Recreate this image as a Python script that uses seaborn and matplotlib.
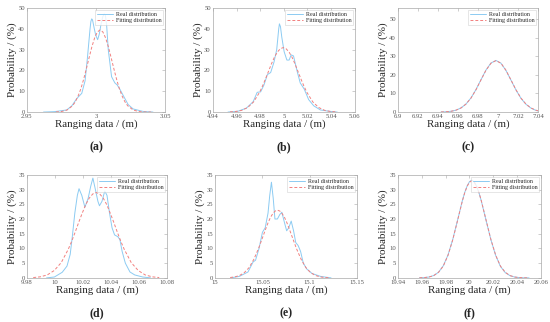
import matplotlib
matplotlib.use("Agg")
import matplotlib.pyplot as plt
import seaborn as sns

# ---------------- data ----------------
# (a) ~3 m
a_real_x = [2.962, 2.970, 2.9788, 2.9825, 2.9861, 2.9897, 2.9921, 2.9938, 2.9957, 2.9963,
            2.9969, 2.9975, 2.9988, 2.9998, 3.0012, 3.0024, 3.0036, 3.0050, 3.0060, 3.0068,
            3.0077, 3.0089, 3.0113, 3.0137, 3.0154, 3.0173, 3.0197, 3.0233, 3.0269, 3.0341, 3.0413]
a_real_y = [0.0, 0.2, 1.0, 3.0, 6.5, 9.0, 15.0, 26.0, 40.0, 43.5,
            44.8, 44.3, 40.0, 37.0, 34.8, 37.5, 42.0, 46.0, 47.2, 46.5,
            42.0, 30.0, 17.0, 14.0, 13.0, 11.0, 8.0, 3.6, 1.5, 0.3, 0.0]
a_fit_x = [2.971, 2.975, 2.979, 2.983, 2.985, 2.987, 2.989, 2.991, 2.993, 2.995, 2.997, 2.999,
           3.001, 3.003, 3.005, 3.007, 3.009, 3.011, 3.013, 3.015, 3.017, 3.019, 3.021, 3.023,
           3.027, 3.031, 3.035, 3.040]
a_fit_y = [0.05, 0.25, 0.96, 3.0, 4.9, 7.6, 11.1, 15.6, 20.7, 26.1, 31.3, 35.6,
           38.5, 39.5, 38.5, 35.6, 31.3, 26.1, 20.7, 15.6, 11.1, 7.6, 4.9, 3.0,
           0.96, 0.25, 0.05, 0.0]

# (b) ~5 m
b_real_x = [4.9528, 4.9613, 4.9684, 4.9741, 4.9775, 4.9804, 4.9832, 4.9861, 4.9889, 4.9917,
            4.9940, 4.9957, 4.9963, 4.9972, 4.9983, 5.0003, 5.0026, 5.0045, 5.0062, 5.0082,
            5.0111, 5.0139, 5.0173, 5.0210, 5.0253, 5.0310, 5.0395, 5.0452]
b_real_y = [0.0, 0.4, 1.9, 5.0, 9.5, 9.7, 13.0, 18.0, 19.0, 24.0,
            30.0, 40.0, 42.4, 41.0, 36.0, 29.0, 25.0, 25.0, 27.5, 27.0,
            20.0, 14.0, 11.0, 6.0, 3.0, 1.0, 0.3, 0.0]
b_fit_x = [4.9545, 4.9595, 4.9645, 4.9695, 4.9745, 4.9795, 4.9820, 4.9845, 4.9870, 4.9895,
           4.9920, 4.9945, 4.9970, 4.9995, 5.0020, 5.0045, 5.0070, 5.0095, 5.0120, 5.0145,
           5.0170, 5.0195, 5.0245, 5.0295, 5.0345, 5.0395, 5.0445]
b_fit_y = [0.08, 0.27, 0.83, 2.2, 4.9, 9.5, 12.5, 15.9, 19.5, 23.1,
           26.3, 28.8, 30.4, 31.0, 30.4, 28.8, 26.3, 23.1, 19.5, 15.9,
           12.5, 9.5, 4.9, 2.2, 0.83, 0.27, 0.08]

# (c) ~7 m
c_real_x = [6.943, 6.948, 6.953, 6.958, 6.963, 6.968, 6.973, 6.978, 6.983, 6.988, 6.993,
            6.998, 7.003, 7.008, 7.013, 7.018, 7.023, 7.028, 7.033, 7.038, 7.040]
c_real_y = [0.05, 0.15, 0.42, 1.0, 2.2, 4.3, 7.6, 12.1, 17.4, 22.6, 26.4,
            27.8, 26.3, 22.4, 17.2, 11.9, 7.4, 4.2, 2.1, 0.9, 0.6]
c_fit_x = [6.943, 6.948, 6.953, 6.958, 6.963, 6.968, 6.973, 6.978, 6.983, 6.988, 6.993,
           6.998, 7.003, 7.008, 7.013, 7.018, 7.023, 7.028, 7.033, 7.038, 7.040]
c_fit_y = [0.05, 0.15, 0.41, 1.0, 2.2, 4.3, 7.5, 12.0, 17.3, 22.5, 26.3,
           27.7, 26.3, 22.5, 17.3, 12.0, 7.5, 4.3, 2.2, 1.0, 0.7]

# (d) ~10 m
d_real_x = [9.994, 9.9996, 10.0052, 10.0086, 10.0109, 10.0124, 10.0142, 10.0160, 10.0172, 10.0192,
            10.0214, 10.0237, 10.0255, 10.0271, 10.0289, 10.0307, 10.0318, 10.0336, 10.0356, 10.0372,
            10.0390, 10.0408, 10.0426, 10.0449, 10.0464, 10.0480, 10.0503, 10.0536, 10.0570, 10.0627,
            10.0683]
d_real_y = [0.0, 0.3, 1.9, 4.0, 8.0, 14.0, 22.0, 28.0, 30.3, 28.0,
            24.0, 27.0, 31.0, 33.9, 30.0, 26.0, 24.5, 26.0, 29.5, 28.0,
            22.0, 17.0, 14.6, 14.0, 13.0, 9.0, 5.0, 2.0, 1.0, 0.3,
            0.0]
d_fit_x = [9.9845, 9.9895, 9.9945, 9.9995, 10.0045, 10.0095, 10.0120, 10.0145, 10.0170, 10.0195,
           10.0220, 10.0245, 10.0270, 10.0295, 10.0320, 10.0345, 10.0370, 10.0395, 10.0420, 10.0445,
           10.0470, 10.0495, 10.0545, 10.0595, 10.0645, 10.0695, 10.0745]
d_fit_y = [0.11, 0.36, 1.0, 2.5, 5.2, 9.7, 12.5, 15.6, 18.9, 22.0,
           24.9, 27.1, 28.5, 29.0, 28.5, 27.1, 24.9, 22.0, 18.9, 15.6,
           12.5, 9.7, 5.2, 2.5, 1.0, 0.36, 0.11]

# (e) ~15 m
e_real_x = [15.0165, 15.0256, 15.0348, 15.0402, 15.0428, 15.0465, 15.0501, 15.0530, 15.0560, 15.0578,
            15.0596, 15.0615, 15.0633, 15.0659, 15.0684, 15.0706, 15.0732, 15.0757, 15.0779, 15.0805,
            15.0830, 15.0853, 15.0878, 15.0904, 15.0933, 15.0970, 15.1025, 15.1116, 15.1226]
e_real_y = [0.0, 0.5, 2.0, 5.4, 6.0, 10.0, 15.5, 17.0, 22.0, 28.0,
            32.5, 27.0, 20.0, 20.0, 21.5, 22.3, 19.0, 16.0, 17.0, 19.3,
            16.0, 12.0, 11.0, 9.0, 5.0, 3.0, 1.5, 0.5, 0.0]
e_fit_x = [15.016, 15.021, 15.026, 15.031, 15.036, 15.041, 15.046, 15.051, 15.0535, 15.056,
           15.0585, 15.061, 15.0635, 15.066, 15.0685, 15.071, 15.0735, 15.076, 15.0785, 15.081,
           15.086, 15.091, 15.096, 15.101, 15.106, 15.111, 15.116, 15.121]
e_fit_y = [0.13, 0.34, 0.83, 1.8, 3.5, 6.3, 10.0, 14.4, 16.6, 18.7,
           20.5, 21.8, 22.7, 23.0, 22.7, 21.8, 20.5, 18.7, 16.6, 14.4,
           10.0, 6.3, 3.5, 1.8, 0.83, 0.34, 0.13, 0.05]

# (f) ~20 m
f_real_x = [19.958, 19.962, 19.966, 19.970, 19.974, 19.978, 19.982, 19.986, 19.990, 19.994,
            19.996, 19.998, 20.000, 20.002, 20.004, 20.006, 20.008, 20.010, 20.014, 20.018,
            20.022, 20.026, 20.030, 20.034, 20.038, 20.042, 20.046, 20.050]
f_real_y = [0.03, 0.10, 0.30, 0.80, 1.9, 4.1, 7.8, 13.1, 19.6, 26.2,
            29.0, 31.2, 32.7, 33.2, 32.6, 31.1, 28.9, 26.0, 19.4, 12.9,
            7.6, 3.9, 1.8, 0.76, 0.28, 0.10, 0.03, 0.0]
f_fit_x = [19.958, 19.962, 19.966, 19.970, 19.974, 19.978, 19.982, 19.986, 19.990, 19.994,
           19.996, 19.998, 20.000, 20.002, 20.004, 20.006, 20.008, 20.010, 20.014, 20.018,
           20.022, 20.026, 20.030, 20.034, 20.038, 20.042, 20.046, 20.050]
f_fit_y = [0.03, 0.10, 0.29, 0.78, 1.9, 4.0, 7.7, 13.0, 19.5, 26.1,
           28.9, 31.1, 32.5, 33.0, 32.5, 31.1, 28.9, 26.1, 19.5, 13.0,
           7.7, 4.0, 1.9, 0.78, 0.29, 0.10, 0.03, 0.0]

# axis ticks
a_xticks = [2.95, 3.0, 3.05]
a_xlabels = ["2.95", "3", "3.05"]
b_xticks = [4.94, 4.96, 4.98, 5.0, 5.02, 5.04, 5.06]
b_xlabels = ["4.94", "4.96", "4.98", "5", "5.02", "5.04", "5.06"]
c_xticks = [6.9, 6.92, 6.94, 6.96, 6.98, 7.0, 7.02, 7.04]
c_xlabels = ["6.9", "6.92", "6.94", "6.96", "6.98", "7", "7.02", "7.04"]
d_xticks = [9.98, 10.0, 10.02, 10.04, 10.06, 10.08]
d_xlabels = ["9.98", "10", "10.02", "10.04", "10.06", "10.08"]
e_xticks = [15.0, 15.05, 15.1, 15.15]
e_xlabels = ["15", "15.05", "15.1", "15.15"]
f_xticks = [19.94, 19.96, 19.98, 20.0, 20.02, 20.04, 20.06]
f_xlabels = ["19.94", "19.96", "19.98", "20", "20.02", "20.04", "20.06"]
top_yticks = [0, 10, 20, 30, 40, 50]
bottom_yticks = [0, 5, 10, 15, 20, 25, 30, 35]

# ---------------- style ----------------
sns.set_style("white")
plt.rcParams["font.family"] = ["Liberation Serif", "DejaVu Serif"]

BLUE = "#8ccbf2"
RED = "#f2807f"
EDGE = "#a8a8a8"

fig = plt.figure(figsize=(5.5, 3.22), dpi=100)

panels = [
    # rect, real, fit, xticks, xlabels, ylim, yticks, tag
    ([0.049, 0.652, 0.251, 0.323], a_real_x, a_real_y, a_fit_x, a_fit_y, a_xticks, a_xlabels, (0, 50), top_yticks, "(a)"),
    ([0.387, 0.652, 0.258, 0.323], b_real_x, b_real_y, b_fit_x, b_fit_y, b_xticks, b_xlabels, (0, 50), top_yticks, "(b)"),
    ([0.7236, 0.652, 0.2545, 0.323], c_real_x, c_real_y, c_fit_x, c_fit_y, c_xticks, c_xlabels, (0, 56), top_yticks, "(c)"),
    ([0.049, 0.137, 0.2545, 0.320], d_real_x, d_real_y, d_fit_x, d_fit_y, d_xticks, d_xlabels, (0, 35), bottom_yticks, "(d)"),
    ([0.391, 0.137, 0.258, 0.320], e_real_x, e_real_y, e_fit_x, e_fit_y, e_xticks, e_xlabels, (0, 35), bottom_yticks, "(e)"),
    ([0.7236, 0.137, 0.26, 0.320], f_real_x, f_real_y, f_fit_x, f_fit_y, f_xticks, f_xlabels, (0, 35), bottom_yticks, "(f)"),
]

for rect, rx, ry, fx, fy, xt, xl, ylim, yt, tag in panels:
    ax = fig.add_axes(rect)
    sns.lineplot(x=rx, y=ry, ax=ax, color=BLUE, lw=0.7, label="Real distribution")
    sns.lineplot(x=fx, y=fy, ax=ax, color=RED, lw=0.7, linestyle=(0, (3, 2)),
                 label="Fitting distribution")
    ax.set_xlim(xt[0], xt[-1])
    ax.set_ylim(*ylim)
    ax.set_xticks(xt)
    ax.set_xticklabels(xl)
    ax.set_yticks(yt)
    ax.tick_params(direction="in", length=2, width=0.4, labelsize=4.8, pad=1.5,
                   colors=EDGE, labelcolor="#555555", top=True, right=True)
    for s in ax.spines.values():
        s.set_color(EDGE)
        s.set_linewidth(0.5)
    ax.set_xlabel("Ranging data / (m)", fontsize=7.8, labelpad=0.5)
    ax.set_ylabel("Probability / (%)", fontsize=8, labelpad=1)
    ax.text(0.5, -0.34, tag, transform=ax.transAxes, ha="center", va="center",
            fontsize=8.5, fontweight="bold")
    leg = ax.legend(loc="upper right", fontsize=4.3, frameon=True, fancybox=False,
                    handlelength=2.6, borderpad=0.3, labelspacing=0.2,
                    handletextpad=0.5, borderaxespad=0.3)
    leg.get_frame().set_edgecolor("#c8c8c8")
    leg.get_frame().set_linewidth(0.4)

fig.savefig("out.png", dpi=100)
